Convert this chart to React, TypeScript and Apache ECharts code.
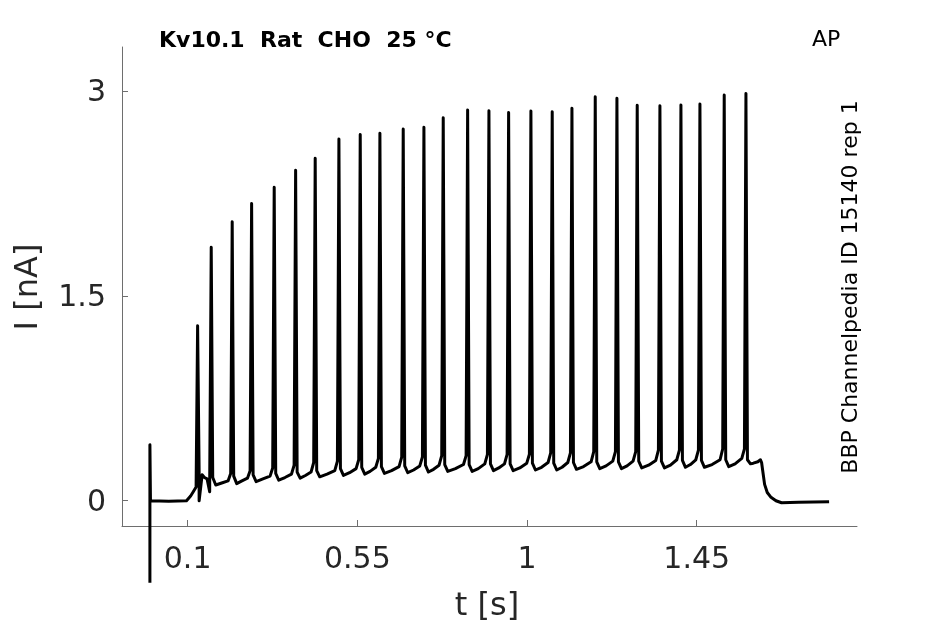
import React, { useEffect, useRef } from "react";
import * as echarts from "echarts";

// Spike times (s) and peak currents (nA)
const spikeT = [0.1265, 0.1626, 0.2182, 0.2697, 0.3296, 0.3864, 0.4383, 0.5012, 0.5577, 0.6099, 0.6717, 0.7266, 0.7778, 0.8425, 0.899, 0.9512, 1.0103, 1.0668, 1.1191, 1.1809, 1.2384, 1.2922, 1.3524, 1.4081, 1.4585, 1.5229, 1.5805];
const spikePeak = [1.281, 1.855, 2.042, 2.177, 2.296, 2.419, 2.507, 2.648, 2.682, 2.69, 2.721, 2.734, 2.804, 2.86, 2.855, 2.843, 2.853, 2.848, 2.873, 2.958, 2.946, 2.895, 2.892, 2.897, 2.904, 2.97, 2.982];
// value just before each spike (foot)
const preI = [0.1, 0.17, 0.2, 0.22, 0.24, 0.26, 0.28, 0.29, 0.3, 0.31, 0.32, 0.32, 0.33, 0.33, 0.34, 0.34, 0.34, 0.35, 0.35, 0.36, 0.36, 0.36, 0.37, 0.37, 0.37, 0.38, 0.38];
// value right after each spike's downstroke
const postI = [0.22, 0.17, 0.18, 0.19, 0.2, 0.21, 0.22, 0.235, 0.245, 0.25, 0.255, 0.26, 0.265, 0.265, 0.27, 0.27, 0.275, 0.275, 0.28, 0.285, 0.285, 0.29, 0.29, 0.295, 0.295, 0.3, 0.3];
// trough after each spike
const troughI = [0.19, 0.115, 0.125, 0.14, 0.15, 0.165, 0.175, 0.185, 0.195, 0.2, 0.205, 0.21, 0.215, 0.215, 0.22, 0.22, 0.225, 0.225, 0.23, 0.235, 0.235, 0.24, 0.24, 0.245, 0.245, 0.25, 0.27];
// value in the middle of each inter-spike interval
const midI = [0.17, 0.13, 0.145, 0.16, 0.17, 0.185, 0.195, 0.205, 0.215, 0.22, 0.225, 0.23, 0.235, 0.235, 0.24, 0.24, 0.245, 0.245, 0.25, 0.255, 0.255, 0.26, 0.26, 0.265, 0.265, 0.27];
// value late in each interval, shortly before the next spike
const lateI = [0.16, 0.145, 0.165, 0.18, 0.195, 0.21, 0.22, 0.235, 0.245, 0.25, 0.255, 0.26, 0.265, 0.27, 0.27, 0.275, 0.28, 0.28, 0.285, 0.29, 0.29, 0.295, 0.3, 0.3, 0.3, 0.31];
// start of the trace (artifact, baseline, rise)
const startT = [0, 0, 0.0015, 0.05, 0.097, 0.108, 0.115];
const startI = [-0.6, 0.41, 0.0, -0.003, 0.0, 0.035, 0.066];
// capacitive dips near the first spikes
const dipT = [0.1305, 0.1585];
const dipI = [0.0, 0.066];
// end of the trace (last bump and decay)
const tailT = [1.6, 1.612, 1.619, 1.622, 1.625, 1.63, 1.637, 1.647, 1.66, 1.675, 1.72, 1.76, 1.801];
const tailI = [0.275, 0.285, 0.3, 0.28, 0.22, 0.12, 0.06, 0.025, 0.0, -0.015, -0.012, -0.01, -0.007];

const xTicks = [0.1, 0.55, 1, 1.45];
const yTicks = [0, 1.5, 3];

const FONT = "DejaVu Sans";
const AX = "#262626";

export default function App() {
  const ref = useRef<HTMLDivElement>(null);
  useEffect(() => {
    document.body.style.margin = "0";
    const chart = echarts.init(ref.current!, null, { renderer: "svg" });
    const pts: [number, number][] = [];
    spikeT.forEach((t, i) => {
      pts.push([t - 0.004, preI[i]]);
      pts.push([t, spikePeak[i]]);
      pts.push([t + 0.004, postI[i]]);
      pts.push([t + 0.012, troughI[i]]);
      if (i < spikeT.length - 1) {
        const nt = spikeT[i + 1];
        pts.push([(t + nt) / 2, midI[i]]);
        pts.push([nt - 0.011, lateI[i]]);
      }
    });
    dipT.forEach((t, i) => pts.push([t, dipI[i]]));
    pts.sort((a, b) => a[0] - b[0]);
    const data: [number, number][] = [];
    startT.forEach((t, i) => data.push([t, startI[i]]));
    pts.forEach((p) => data.push(p));
    tailT.forEach((t, i) => data.push([t, tailI[i]]));

    chart.setOption({
      animation: false,
      grid: { left: 122, right: 88, top: 47, bottom: 98 },
      xAxis: {
        type: "value",
        min: -0.074,
        max: 1.875,
        splitLine: { show: false },
        axisLine: { onZero: false, lineStyle: { color: "#6e6e6e", width: 1 } },
        axisTick: { inside: true, length: 6, customValues: xTicks, lineStyle: { color: "#6e6e6e" } },
        axisLabel: { customValues: xTicks, color: AX, fontSize: 30, fontFamily: FONT, margin: 16, formatter: (v: number) => String(v) },
      },
      yAxis: {
        type: "value",
        min: -0.185,
        max: 3.322,
        splitLine: { show: false },
        axisLine: { onZero: false, lineStyle: { color: "#6e6e6e", width: 1 } },
        axisTick: { inside: true, length: 6, customValues: yTicks, lineStyle: { color: "#6e6e6e" } },
        axisLabel: { customValues: yTicks, color: AX, fontSize: 30, fontFamily: FONT, margin: 16, formatter: (v: number) => String(v) },
      },
      series: [
        {
          type: "line",
          data,
          showSymbol: false,
          symbol: "none",
          clip: false,
          lineStyle: { color: "#000", width: 3, join: "round" },
        },
      ],
      graphic: [
        { type: "text", x: 159, y: 39, style: { text: "Kv10.1  Rat  CHO  25 °C", font: `bold 22px "${FONT}"`, fill: "#000", verticalAlign: "middle", align: "left" } },
        { type: "text", x: 812, y: 38, style: { text: "AP", font: `22px "${FONT}"`, fill: "#000", verticalAlign: "middle", align: "left" } },
        { type: "text", x: 849, y: 287, rotation: Math.PI / 2, style: { text: "BBP Channelpedia ID 15140 rep 1", font: `22px "${FONT}"`, fill: "#000", verticalAlign: "middle", align: "center" } },
        { type: "text", x: 26, y: 287, rotation: Math.PI / 2, style: { text: "I [nA]", font: `32px "${FONT}"`, fill: AX, verticalAlign: "middle", align: "center" } },
        { type: "text", x: 487, y: 604, style: { text: "t [s]", font: `32px "${FONT}"`, fill: AX, verticalAlign: "middle", align: "center" } },
      ],
    });
    return () => chart.dispose();
  }, []);
  return <div ref={ref} style={{ position: "fixed", left: 0, top: 0, width: 945, height: 624 }} />;
}
